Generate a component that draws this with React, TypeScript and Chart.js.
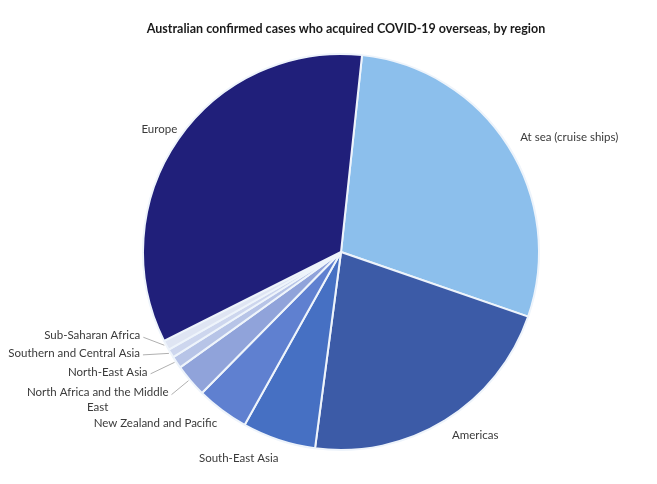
import React, { useEffect, useRef } from 'react';
import { Chart, registerables } from 'chart.js';
Chart.register(...registerables);

const titleText = 'Australian confirmed cases who acquired COVID-19 overseas, by region';
const categories = [
  'At sea (cruise ships)',
  'Americas',
  'South-East Asia',
  'New Zealand and Pacific',
  'North Africa and the Middle East',
  'North-East Asia',
  'Southern and Central Asia',
  'Sub-Saharan Africa',
  'Europe',
];
const shares = [28.6, 21.8, 6.0, 4.3, 2.7, 1.0, 0.7, 0.8, 34.1];
const sliceColors = ['#8cbfec', '#3c5ba7', '#4670c3', '#5f80d0', '#90a3da', '#b7c4e7', '#cdd6ee', '#dfe5f3', '#201f7a'];

// label placement relative to the slice's outer mid-point
const labelLayout = [
  { lines: ['At sea (cruise ships)'], dx: 12, dy: -9, align: 'left', leader: false },
  { lines: ['Americas'], dx: 7, dy: 15, align: 'left', leader: false },
  { lines: ['South-East Asia'], dx: -40, dy: 18, align: 'center', leader: false },
  { lines: ['New Zealand and Pacific'], dx: -5, dy: 13, align: 'right', leader: false },
  { lines: ['North Africa and the Middle', 'East'], dx: -22, dy: 12, align: 'block', leader: true },
  { lines: ['North-East Asia'], dx: -29, dy: 9.5, align: 'right', leader: true },
  { lines: ['Southern and Central Asia'], dx: -31, dy: -0.5, align: 'right', leader: true },
  { lines: ['Sub-Saharan Africa'], dx: -26, dy: -10, align: 'right', leader: true },
  { lines: ['Europe'], dx: -1, dy: -10, align: 'right', leader: false },
];

const FONT = 'Lato, "Open Sans", sans-serif';

function fitSize(ctx: CanvasRenderingContext2D, text: string, target: number, weight: string) {
  let size = 18;
  while (size > 6) {
    ctx.font = `${weight} ${size}px ${FONT}`;
    if (ctx.measureText(text).width <= target) break;
    size -= 0.25;
  }
  return size;
}

const labelPlugin = {
  id: 'customLabels',
  afterDraw(chart: any) {
    const ctx: CanvasRenderingContext2D = chart.ctx;
    ctx.save();
    // title
    const tSize = fitSize(ctx, titleText, 400, 'bold');
    ctx.font = `bold ${tSize}px ${FONT}`;
    ctx.fillStyle = '#1a1a1a';
    ctx.textAlign = 'center';
    ctx.textBaseline = 'middle';
    ctx.fillText(titleText, 346, 29);

    const lSize = fitSize(ctx, 'At sea (cruise ships)', 100, 'normal');
    ctx.font = `${lSize}px ${FONT}`;
    ctx.fillStyle = '#3a3a3a';
    const meta = chart.getDatasetMeta(0);
    meta.data.forEach((arc: any, i: number) => {
      const p = arc.getProps(['x', 'y', 'startAngle', 'endAngle', 'outerRadius'], true);
      const mid = (p.startAngle + p.endAngle) / 2;
      const ax = p.x + Math.cos(mid) * p.outerRadius;
      const ay = p.y + Math.sin(mid) * p.outerRadius;
      const L = labelLayout[i];
      const tx = ax + L.dx;
      const ty = ay + L.dy;
      const lineH = 15;
      if (L.align === 'block') {
        const w = Math.max(...L.lines.map((s) => ctx.measureText(s).width));
        const cx = tx - w / 2;
        ctx.textAlign = 'center';
        L.lines.forEach((s, k) => ctx.fillText(s, cx, ty + k * lineH));
      } else {
        ctx.textAlign = L.align as CanvasTextAlign;
        L.lines.forEach((s, k) => ctx.fillText(s, tx, ty + k * lineH));
      }
      if (L.leader) {
        ctx.strokeStyle = '#b0b0b0';
        ctx.lineWidth = 1;
        ctx.beginPath();
        ctx.moveTo(tx + 3, ty + 2);
        ctx.lineTo(ax - 2, ay);
        ctx.stroke();
      }
    });
    ctx.restore();
  },
};

export default function App() {
  const ref = useRef<HTMLCanvasElement>(null);
  useEffect(() => {
    if (!ref.current) return;
    const chart = new Chart(ref.current, {
      type: 'pie',
      data: {
        labels: categories,
        datasets: [
          {
            data: shares,
            backgroundColor: sliceColors,
            borderColor: '#eef4fb',
            borderWidth: 2,
          },
        ],
      },
      options: {
        animation: false,
        responsive: true,
        maintainAspectRatio: false,
        rotation: 6.1,
        layout: { padding: { top: 53, bottom: 33, left: 25, right: 0 } },
        plugins: {
          legend: { display: false },
          tooltip: { enabled: false },
          title: { display: false },
        },
      },
      plugins: [labelPlugin],
    });
    return () => chart.destroy();
  }, []);
  return (
    <div style={{ position: 'absolute', left: 0, top: 0, width: 657, height: 484, background: '#fff' }}>
      <canvas ref={ref} />
    </div>
  );
}
